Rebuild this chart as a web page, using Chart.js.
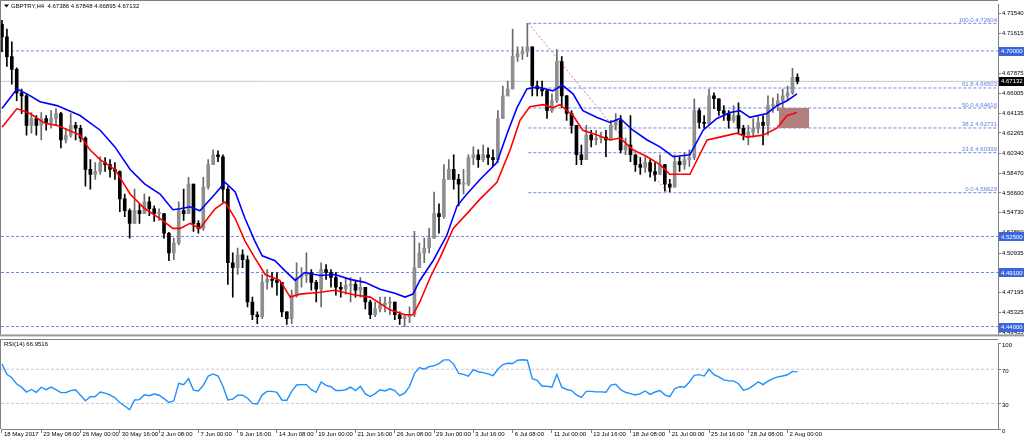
<!DOCTYPE html>
<html><head><meta charset="utf-8">
<script src="https://cdn.jsdelivr.net/npm/chart.js@4/dist/chart.umd.min.js"></script>
<style>
html,body{margin:0;padding:0;background:#fff;overflow:hidden}
#wrap{position:relative;width:1024px;height:442px;background:#fff}
canvas{position:absolute;left:0}
#c1{top:0}
#c2{top:339px}
</style></head><body>
<div id="wrap"><canvas id="c1" width="1024" height="339"></canvas><canvas id="c2" width="1024" height="103"></canvas></div>
<script>
// ---------- DATA ----------
const symbolTitle = 'GBPTRY,H4  4.67386 4.67848 4.66895 4.67132';
const rsiTitle = 'RSI(14) 66.9516';
const firstOpen = 4.7252;
const closes = [
4.7132,4.6947,4.6826,4.6604,4.6576,4.6298,4.6363,4.6298,4.6363,4.6326,
4.6363,4.6410,4.6160,4.6206,4.6298,4.6271,4.6178,4.5882,4.5836,4.5863,
4.5947,4.5928,4.5882,4.5863,4.5604,4.5493,4.5373,4.5493,4.5465,4.5576,
4.5511,4.5465,4.5465,4.5280,4.5095,4.5187,4.5493,4.5465,4.5743,4.5373,
4.5326,4.5715,4.5928,4.6021,4.6002,4.5697,4.5002,4.4956,4.5076,4.5030,
4.4632,4.4511,4.4493,4.4817,4.4845,4.4835,4.4817,4.4539,4.4474,4.4697,
4.4863,4.4882,4.4910,4.4817,4.4752,4.4937,4.4910,4.4863,4.4771,4.4752,
4.4789,4.4798,4.4743,4.4771,4.4632,4.4511,4.4567,4.4604,4.4622,4.4632,
4.4511,4.4474,4.4493,4.4511,4.4956,4.5095,4.5141,4.5234,4.5465,4.5437,
4.5789,4.5882,4.5789,4.5743,4.5743,4.5993,4.6021,4.5974,4.6021,4.5993,
4.5974,4.6363,4.6576,4.6641,4.6947,4.6975,4.6993,4.7039,4.6669,4.6641,
4.6623,4.6437,4.6530,4.6900,4.6576,4.6410,4.6298,4.6021,4.5974,4.6206,
4.6160,4.6178,4.6187,4.6160,4.6298,4.6345,4.6067,4.6113,4.6021,4.5928,
4.5900,4.5947,4.5863,4.5836,4.5928,4.5743,4.5715,4.5956,4.5928,4.5974,
4.5993,4.6437,4.6326,4.6317,4.6576,4.6549,4.6437,4.6410,4.6345,4.6391,
4.6271,4.6206,4.6234,4.6271,4.6326,4.6298,4.6484,4.6484,4.6530,4.6576,
4.6604,4.6752,4.67132];
const highs = [
4.7289,4.7206,4.7086,4.6840,4.6641,4.6590,4.6419,4.6391,4.6419,4.6391,
4.6437,4.6456,4.6420,4.6271,4.6410,4.6326,4.6298,4.6190,4.5974,4.5947,
4.6002,4.5993,4.5974,4.5947,4.5870,4.5650,4.5511,4.5697,4.5558,4.5650,
4.5623,4.5539,4.5511,4.5465,4.5290,4.5234,4.5576,4.5697,4.5808,4.5743,
4.5400,4.5808,4.5974,4.6067,4.6058,4.6021,4.5720,4.5095,4.5141,4.5123,
4.5067,4.4678,4.4539,4.4891,4.4937,4.4910,4.4910,4.4817,4.4539,4.4743,
4.5002,4.4956,4.5095,4.4937,4.4835,4.5002,4.4984,4.4937,4.4910,4.4817,
4.4863,4.4863,4.4835,4.4863,4.4771,4.4650,4.4632,4.4678,4.4678,4.4678,
4.4632,4.4539,4.4511,4.4585,4.5298,4.5187,4.5234,4.5326,4.5669,4.5558,
4.5928,4.5974,4.6021,4.5836,4.5882,4.6021,4.6095,4.6067,4.6113,4.6086,
4.6067,4.6437,4.6669,4.6715,4.7206,4.7039,4.7039,4.7261,4.7039,4.6715,
4.6715,4.6640,4.6595,4.7012,4.6947,4.6580,4.6437,4.6298,4.6113,4.6298,
4.6252,4.6252,4.6234,4.6252,4.6345,4.6410,4.6391,4.6178,4.6391,4.6021,
4.5993,4.6002,4.5974,4.5947,4.6021,4.5928,4.5789,4.6021,4.6002,4.6039,
4.6067,4.6549,4.6456,4.6391,4.6641,4.6604,4.6549,4.6484,4.6437,4.6484,
4.6511,4.6298,4.6298,4.6363,4.6391,4.6391,4.6576,4.6558,4.6595,4.6641,
4.6669,4.6836,4.67848];
const lows = [
4.6993,4.6854,4.6687,4.6530,4.6409,4.6206,4.6224,4.6206,4.6160,4.6252,
4.6271,4.6298,4.6086,4.6132,4.6187,4.6160,4.6141,4.5724,4.5697,4.5789,
4.5836,4.5863,4.5808,4.5789,4.5484,4.5437,4.5234,4.5373,4.5373,4.5465,
4.5447,4.5391,4.5400,4.5234,4.5021,4.5030,4.5170,4.5400,4.5465,4.5298,
4.5280,4.5308,4.5697,4.5928,4.5956,4.5576,4.4798,4.4678,4.4891,4.4956,
4.4585,4.4465,4.4428,4.4474,4.4752,4.4771,4.4697,4.4493,4.4419,4.4428,
4.4678,4.4771,4.4817,4.4743,4.4632,4.4585,4.4845,4.4771,4.4697,4.4678,
4.4706,4.4632,4.4678,4.4678,4.4567,4.4474,4.4493,4.4539,4.4539,4.4511,
4.4465,4.4419,4.4400,4.4437,4.4493,4.4956,4.5002,4.5095,4.5234,4.5280,
4.5419,4.5789,4.5697,4.5539,4.5650,4.5730,4.5928,4.5900,4.5956,4.5928,
4.5910,4.5947,4.6363,4.6576,4.6641,4.6900,4.6919,4.6947,4.6576,4.6576,
4.6576,4.6363,4.6419,4.6511,4.6465,4.6345,4.6224,4.5928,4.5928,4.5974,
4.6095,4.6113,4.6132,4.6002,4.6160,4.6252,4.6039,4.6021,4.5956,4.5863,
4.5836,4.5854,4.5808,4.5771,4.5836,4.5678,4.5669,4.5715,4.5863,4.5882,
4.5910,4.5974,4.6271,4.6271,4.6300,4.6456,4.6391,4.6345,4.6271,4.6326,
4.6224,4.6160,4.6113,4.6187,4.6224,4.6113,4.6206,4.6419,4.6437,4.6456,
4.6530,4.6590,4.66895];
// moving averages, sampled at bar positions
const blueIdx = [0,3.05,5.09,7.74,11.2,15.9,20.0,23.0,26.1,29.1,32.2,34.8,36.3,38.3,40.3,43.4,45.4,47.5,49.5,51.5,53.0,55.6,57.6,59.7,61.7,64.8,67.8,70.9,73.9,77.0,80.0,82.1,83.7,85.1,87.8,90.6,92.7,94.7,97.4,100.8,102.9,104.9,106.9,109.0,112.2,114.1,116.3,118.3,121.2,123.8,125.9,128.5,131.4,134.0,136.7,140.1,142.8,145.6,148.3,150.3,152.3,155.8,157.8,159.9,161.9];
const blueVals = [4.6456,4.6641,4.6595,4.6521,4.6484,4.6391,4.6252,4.6095,4.5882,4.5743,4.5650,4.5502,4.5511,4.5530,4.5493,4.5650,4.5761,4.5669,4.5419,4.5206,4.5067,4.5021,4.4928,4.4835,4.4910,4.4882,4.4891,4.4845,4.4817,4.4752,4.4715,4.4678,4.4706,4.4835,4.5021,4.5261,4.5539,4.5650,4.5789,4.5947,4.6224,4.6465,4.6641,4.6660,4.6623,4.6678,4.6595,4.6437,4.6373,4.6326,4.6363,4.6252,4.6160,4.6095,4.6002,4.6021,4.6252,4.6363,4.6419,4.6437,4.6373,4.6410,4.6484,4.6530,4.6595];
const redIdx = [0,3.05,5.7,8.76,11.2,15.9,17.9,20.0,23.0,26.1,29.1,32.2,34.8,36.3,38.3,40.3,43.4,45.4,47.5,49.5,51.5,53.6,56.6,58.7,60.7,64.8,67.8,71.9,75.0,79.0,82.1,83.7,85.1,87.2,89.2,91.9,94.7,97.4,100.8,103.5,105.5,107.5,110.2,112.2,113.6,116.3,118.3,121.2,123.8,125.9,128.5,131.4,134.0,136.0,140.1,143.6,146.2,149.7,151.7,155.0,157.8,159.9,161.9];
const redVals = [4.6280,4.6456,4.6410,4.6317,4.6298,4.6206,4.6067,4.5974,4.5882,4.5650,4.5511,4.5419,4.5326,4.5326,4.5373,4.5326,4.5511,4.5576,4.5419,4.5206,4.5048,4.4891,4.4835,4.4678,4.4706,4.4724,4.4743,4.4697,4.4678,4.4558,4.4511,4.4511,4.4632,4.4863,4.5048,4.5326,4.5465,4.5604,4.5761,4.6067,4.6345,4.6474,4.6493,4.6465,4.6493,4.6391,4.6252,4.6206,4.6160,4.6178,4.6067,4.6002,4.5928,4.5836,4.5836,4.6160,4.6187,4.6224,4.6187,4.6206,4.6271,4.6391,4.6419];
const rsiVals = [
76,64,60,52.6,49,43.3,46.3,43,48.9,46,
49,46,42.6,42.6,45,46,39.6,33,37.8,38,
43.3,42,40,36.5,31,27,22.5,34,34.4,40,
39,41,39.5,35.5,31,33,53.5,52,59,45.5,
44.5,51,62,64.5,62,50,34,35,39.6,39.5,
36,30,29.3,40,44,44,43,34,33.5,44,
51.5,52,52,46,43,55,51,49.5,45,45,
46,49,45,50,41,38,41.5,46,44.5,47,
45,39,42,50,65,72,70,73,74,76.5,
81,81,76,65,64,62,69.5,67,66,64.5,
62.5,70,75.5,77,76.7,80.5,81,80.5,59,57,
50,50,49,64,49,46.3,45,40,37,44,
44,43.5,43.5,43,51.5,52.5,46,43,41.5,39.8,
41.5,44.5,40.5,43.3,45,40,37.8,47,49.5,49,
55,62.8,63.7,62,70,63.7,61,57.5,56.3,56.3,
53,45.5,47,50.7,55.2,52,56,59,61,62,
63.5,67.5,66.95];
const dateLabels = ['18 May 2017','23 May 08:00','26 May 00:00','30 May 16:00','2 Jun 08:00','7 Jun 00:00','9 Jun 16:00','14 Jun 08:00','19 Jun 00:00','21 Jun 16:00','26 Jun 08:00','29 Jun 00:00','3 Jul 16:00','6 Jul 08:00','11 Jul 00:00','13 Jul 16:00','18 Jul 08:00','21 Jul 00:00','25 Jul 16:00','28 Jul 08:00','2 Aug 00:00'];
const dateIdx = [0,8,16,24,32,40,48,56,64,72,80,88,96,104,112,120,128,136,144,152,160];
const priceTicks = [4.73540,4.71615,4.69745,4.67875,4.66005,4.64135,4.62265,4.60340,4.58470,4.56600,4.54730,4.52860,4.50935,4.49065,4.47195,4.45325,4.43455];
const levelLines = [4.70000,4.52500,4.49100,4.44000];
const lastPrice = 4.67132;
const fibPct = ['100.0','61.8','50.0','38.2','23.6','0.0'];
const fibVals = [4.72604,4.66503,4.64616,4.62731,4.60399,4.56629];
const fibStartIdx = 107.2;
const fibDiagIdx = [107.2,135.6];
const fibDiagVals = [4.72604,4.56629];
const rectIdx = [158.2,164.4];
const rectVals = [4.64616,4.62731];
const rsiTicks = [0,30,70,100];
const rsiLevels = [70,30];

// ---------- SETUP ----------
const xMin = -0.2, xMax = 202.85;
const FONT = "'Liberation Sans', Arial, sans-serif";
const fnt = {family: FONT, size: 6};
const LINEBLUE = '#6a8ae8';
Chart.defaults.font.family = FONT;

const opens = closes.map((c,i)=> i===0 ? firstOpen : closes[i-1]);
const bull = i => closes[i] >= opens[i];
const wickData = closes.map((c,i)=>({x:i, y:[lows[i], highs[i]]}));
const bodyData = closes.map((c,i)=>({x:i, y:[Math.min(opens[i],c), Math.max(opens[i],c)]}));

function hline(v, from, color, dash, w, order){
  return {type:'line', data:[{x:from,y:v},{x:xMax,y:v}], borderColor:color, borderDash:dash, borderWidth:w, pointRadius:0, fill:false, order:order};
}

const mainSets = [
  {type:'line', data: blueIdx.map((x,i)=>({x, y:blueVals[i]})), borderColor:'#0000ff', borderWidth:1.6, pointRadius:0, fill:false, order:0},
  {type:'line', data: redIdx.map((x,i)=>({x, y:redVals[i]})), borderColor:'#ff0000', borderWidth:1.6, pointRadius:0, fill:false, order:0},
  {type:'line', data:[{x:rectIdx[0],y:rectVals[0]},{x:rectIdx[1],y:rectVals[0]}], borderWidth:0, borderColor:'rgba(0,0,0,0)', pointRadius:0, fill:{value:rectVals[1]}, backgroundColor:'#b27f7f', order:1},
  {type:'bar', data: bodyData, barThickness:3, minBarLength:1, grouped:false, order:2,
    backgroundColor: c => bull(c.dataIndex) ? '#8f8f8f' : '#000000'},
  {type:'bar', data: wickData, barThickness:1, grouped:false, order:3,
    backgroundColor: c => bull(c.dataIndex) ? '#6a6a6a' : '#000000'},
  {type:'line', data: fibDiagIdx.map((x,i)=>({x, y:fibDiagVals[i]})), borderColor:'#f07070', borderDash:[2,2], borderWidth:1, pointRadius:0, fill:false, order:4},
  hline(lastPrice, xMin, '#c8c8c8', [], 1, 6)
];
levelLines.forEach(v=>mainSets.push(hline(v, xMin, LINEBLUE, [3,2], 1, 5)));
fibVals.forEach(v=>mainSets.push(hline(v, fibStartIdx, LINEBLUE, [3,2], 1, 5)));

const mainOverlay = {
  id:'mainOverlay',
  afterDraw(chart){
    const ctx = chart.ctx, a = chart.chartArea, y = chart.scales.y;
    ctx.save();
    ctx.strokeStyle = '#808080'; ctx.lineWidth = 1;
    ctx.beginPath();
    ctx.moveTo(0, 0.5); ctx.lineTo(a.right, 0.5);
    ctx.moveTo(0.5, 0); ctx.lineTo(0.5, a.bottom);
    ctx.stroke();
    ctx.fillStyle = '#9a9a9a';
    ctx.fillRect(0, a.bottom, 1024, 2);
    ctx.font = '6px ' + FONT;
    ctx.textAlign = 'right'; ctx.textBaseline = 'alphabetic';
    ctx.fillStyle = '#5f82e6';
    fibVals.forEach((v,i)=>{ ctx.fillText(fibPct[i] + ' ' + v.toFixed(5), a.right - 1, y.getPixelForValue(v) - 1.5); });
    ctx.textAlign = 'left'; ctx.textBaseline = 'middle';
    levelLines.forEach(v=>{
      const py = y.getPixelForValue(v);
      ctx.fillStyle = '#3a66dd'; ctx.fillRect(a.right + 1, Math.round(py) - 4, 25, 9);
      ctx.fillStyle = '#ffffff'; ctx.fillText(v.toFixed(5), a.right + 3, py + 0.5);
    });
    const lp = y.getPixelForValue(lastPrice);
    ctx.fillStyle = '#000000'; ctx.fillRect(a.right + 1, Math.round(lp) - 4, 25, 9);
    ctx.fillStyle = '#ffffff'; ctx.fillText(lastPrice.toFixed(5), a.right + 3, lp + 0.5);
    ctx.fillStyle = '#000';
    ctx.beginPath(); ctx.moveTo(4, 4.5); ctx.lineTo(9, 4.5); ctx.lineTo(6.5, 7.5); ctx.closePath(); ctx.fill();
    ctx.fillText(symbolTitle, 11, 6.5);
    ctx.restore();
  }
};

new Chart(document.getElementById('c1'), {
  type:'bar',
  data:{datasets: mainSets},
  options:{
    responsive:false, animation:false, devicePixelRatio:1,
    layout:{padding:{left:1, top:2, right:0, bottom:1}},
    plugins:{legend:{display:false}, tooltip:{enabled:false}},
    scales:{
      x:{type:'linear', min:xMin, max:xMax, display:false, offset:false, grid:{offset:false}},
      y:{type:'linear', position:'right', min:4.4326, max:4.7437,
        afterBuildTicks: s => { s.ticks = priceTicks.map(v=>({value:v})); },
        afterFit: s => { s.width = 26; },
        ticks:{callback: v => Number(v).toFixed(5), font:fnt, color:'#000', padding:1, autoSkip:false},
        grid:{drawOnChartArea:false, tickLength:3, color:'#808080'},
        border:{color:'#808080'}
      }
    }
  },
  plugins:[mainOverlay]
});

const rsiOverlay = {
  id:'rsiOverlay',
  afterDraw(chart){
    const ctx = chart.ctx, a = chart.chartArea;
    ctx.save();
    ctx.strokeStyle = '#808080'; ctx.lineWidth = 1;
    ctx.beginPath();
    ctx.moveTo(0, 0.5); ctx.lineTo(a.right, 0.5);
    ctx.moveTo(0.5, 0); ctx.lineTo(0.5, a.bottom);
    ctx.stroke();
    ctx.fillStyle = '#000'; ctx.font = '6px ' + FONT;
    ctx.textAlign = 'left'; ctx.textBaseline = 'middle';
    ctx.fillText(rsiTitle, 4, 5.5);
    ctx.restore();
  }
};

const rsiSets = [
  {data: rsiVals.map((v,i)=>({x:i, y:v})), borderColor:'#1e90ff', borderWidth:1.4, pointRadius:0, fill:false, order:0}
];
rsiLevels.forEach(v=>rsiSets.push({data:[{x:xMin,y:v},{x:xMax,y:v}], borderColor:'#c8c8c8', borderDash:[3,2], borderWidth:1, pointRadius:0, fill:false, order:1}));

new Chart(document.getElementById('c2'), {
  type:'line',
  data:{datasets: rsiSets},
  options:{
    responsive:false, animation:false, devicePixelRatio:1,
    layout:{padding:{left:1, top:1, right:0, bottom:0}},
    plugins:{legend:{display:false}, tooltip:{enabled:false}},
    scales:{
      x:{type:'linear', min:xMin, max:xMax, offset:false,
        afterBuildTicks: s => { s.ticks = dateIdx.map(v=>({value:v})); },
        afterFit: s => { s.height = 13; },
        ticks:{callback: v => dateLabels[dateIdx.indexOf(v)], font:fnt, color:'#000', align:'start', autoSkip:false, maxRotation:0, padding:-2, labelOffset:2},
        grid:{drawOnChartArea:false, tickLength:4, color:'#808080', offset:false},
        border:{color:'#808080'}
      },
      y:{type:'linear', position:'right', min:0, max:100,
        afterBuildTicks: s => { s.ticks = rsiTicks.map(v=>({value:v})); },
        afterFit: s => { s.width = 26; },
        ticks:{font:fnt, color:'#000', padding:1, autoSkip:false, labelOffset:2},
        grid:{drawOnChartArea:false, tickLength:3, color:'#808080'},
        border:{color:'#808080'}
      }
    }
  },
  plugins:[rsiOverlay]
});
</script>
</body></html>
